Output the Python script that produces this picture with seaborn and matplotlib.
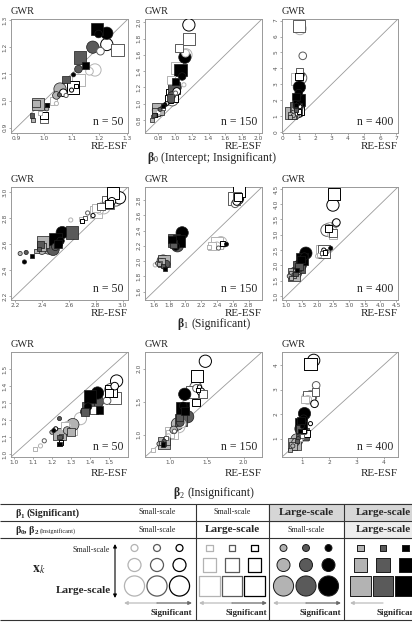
import matplotlib
matplotlib.use('Agg')
import matplotlib.pyplot as plt
import seaborn as sns
import pandas as pd
from matplotlib.patches import Rectangle

W, H = 412, 628

# marker design: shape/fill = scale of beta, size = scale of x_k, shade = significance
KINDS = ['open circle', 'open square', 'filled circle', 'filled square']
SCALES = ['small', 'medium', 'large']
SIGNIF = ['weak', 'moderate', 'strong']
KIND = [k for k in KINDS for _ in range(9)]
SCALE = [s for _ in KINDS for s in SCALES for _ in range(3)]
SIG = [g for _ in KINDS for _ in SCALES for g in SIGNIF]

# ── estimated coefficients (RE-ESF = x, GWR = y), order: kind > scale > signif ──
B0_N50_X = [1.045, 1.08, 1.10, 1.165, 1.205, 1.07, 1.185, 1.085, 1.228,
            0.985, 1.01, 1.115, 1.035, 1.0, 1.0, 1.125, 1.267, 1.105,
            1.01, 1.056, 1.107, 1.045, 1.125, 1.198, 1.058, 1.177, 1.228,
            0.96, 0.955, 1.011, 0.97, 1.08, 1.150, 0.979, 1.131, 1.192]
B0_N50_Y = [0.99, 1.02, 1.04, 1.11, 1.185, 1.03, 1.115, 1.045, 1.21,
            0.955, 0.985, 1.056, 1.0, 0.93, 0.945, 1.078, 1.19, 1.05,
            0.97, 1.022, 1.097, 1.02, 1.118, 1.249, 1.044, 1.20, 1.252,
            0.93, 0.945, 0.985, 0.99, 1.08, 1.132, 0.989, 1.161, 1.267]

B0_N150_X = [1.105, 1.006, 0.90, 1.125, 0.94, 1.02, 1.13, 0.966, 1.165,
             0.80, 0.85, 0.76, 0.954, 1.046, 0.93, 1.026, 1.165, 0.96,
             0.74, 0.82, 0.879, 0.78, 0.96, 1.085, 0.80, 1.0, 1.117,
             0.72, 0.747, 0.86, 0.77, 0.946, 1.006, 0.799, 0.986, 1.066]
B0_N150_Y = [1.232, 1.13, 1.0, 1.62, 1.05, 1.15, 1.60, 1.048, 1.967,
             0.90, 0.95, 0.86, 1.293, 1.681, 1.06, 1.436, 1.79, 1.10,
             0.84, 0.93, 0.987, 0.88, 1.10, 1.334, 0.92, 1.20, 1.57,
             0.80, 0.864, 0.97, 0.90, 1.069, 1.273, 0.934, 1.19, 1.416]

B0_N400_X = [0.70, 0.90, 1.05, 1.00, 1.23, 1.08, 1.06, 1.10, 0.95,
             0.55, 0.85, 1.00, 0.80, 1.02, 1.00, 0.86, 1.02, 0.90,
             0.65, 0.85, 0.95, 0.70, 0.90, 0.98, 0.75, 0.92, 1.02,
             0.45, 0.80, 0.82, 0.55, 0.92, 0.82, 0.51, 0.80, 1.00]
B0_N400_Y = [1.10, 1.40, 1.60, 1.50, 4.79, 3.60, 6.50, 3.40, 1.30,
             1.00, 1.20, 1.30, 1.30, 3.81, 3.50, 3.35, 6.65, 1.45,
             1.05, 1.35, 1.80, 1.15, 1.55, 2.45, 1.20, 1.70, 2.83,
             0.95, 1.40, 1.72, 1.05, 1.62, 2.24, 1.20, 1.50, 2.04]

B1_N50_X = [2.614, 2.74, 2.78, 2.83, 2.88, 2.92, 2.86, 2.95, 2.977,
            2.689, 2.72, 2.70, 2.80, 2.84, 2.90, 2.80, 2.89, 2.927,
            2.238, 2.283, 2.27, 2.40, 2.50, 2.538, 2.45, 2.483, 2.551,
            2.36, 2.376, 2.325, 2.40, 2.388, 2.52, 2.408, 2.626, 2.50]
B1_N50_Y = [2.786, 2.84, 2.82, 2.86, 2.90, 2.93, 2.88, 2.94, 2.957,
            2.793, 2.80, 2.78, 2.88, 2.89, 2.91, 2.845, 2.92, 2.993,
            2.528, 2.536, 2.463, 2.55, 2.58, 2.625, 2.57, 2.56, 2.689,
            2.55, 2.56, 2.508, 2.58, 2.598, 2.60, 2.619, 2.689, 2.637]

B1_N150_X = [1.62, 2.42, 2.50, 2.40, 2.63, 2.65, 2.45, 2.63, 2.66,
             2.30, 1.68, 2.47, 2.34, 2.65, 2.67, 2.40, 2.62, 2.68,
             1.65, 1.74, 2.52, 1.70, 1.76, 1.88, 1.72, 1.90, 1.96,
             1.67, 1.72, 1.74, 1.70, 1.85, 1.83, 1.73, 1.86, 1.92]
B1_N150_Y = [1.95, 2.17, 2.22, 2.20, 2.75, 2.78, 2.24, 2.80, 2.82,
             2.18, 1.98, 2.23, 2.20, 2.86, 2.84, 2.24, 2.82, 2.92,
             1.97, 1.91, 2.22, 1.98, 1.96, 2.19, 2.00, 2.20, 2.37,
             1.96, 1.94, 1.90, 1.99, 2.22, 2.28, 2.00, 2.27, 2.26]

B1_N400_X = [2.00, 2.30, 2.20, 2.45, 2.58, 2.60, 2.40, 2.30, 2.49,
             2.05, 2.15, 2.25, 2.49, 2.50, 2.35, 2.16, 2.20, 2.53,
             1.10, 1.25, 2.42, 1.35, 1.40, 1.58, 1.30, 1.45, 1.63,
             1.15, 1.30, 1.35, 1.20, 1.42, 1.47, 1.26, 1.40, 1.50]
B1_N400_Y = [2.30, 2.45, 2.50, 3.00, 3.37, 3.40, 3.20, 3.15, 3.97,
             2.35, 2.40, 2.42, 2.99, 3.05, 3.20, 2.46, 2.45, 4.32,
             1.65, 1.70, 2.56, 1.80, 1.90, 2.29, 1.75, 2.00, 2.40,
             1.60, 1.72, 1.85, 1.70, 1.97, 2.19, 1.70, 1.95, 2.20]

B2_N50_X = [1.14, 1.16, 1.22, 1.28, 1.49, 1.53, 1.35, 1.51, 1.54,
            1.11, 1.24, 1.25, 1.27, 1.42, 1.50, 1.30, 1.53, 1.51,
            1.20, 1.24, 1.21, 1.28, 1.37, 1.39, 1.31, 1.44, 1.44,
            1.25, 1.24, 1.24, 1.30, 1.375, 1.45, 1.24, 1.39, 1.40]
B2_N50_Y = [1.05, 1.08, 1.15, 1.17, 1.315, 1.40, 1.21, 1.38, 1.43,
            1.03, 1.06, 1.07, 1.165, 1.26, 1.36, 1.15, 1.33, 1.37,
            1.13, 1.21, 1.14, 1.14, 1.25, 1.28, 1.175, 1.31, 1.36,
            1.11, 1.10, 1.06, 1.13, 1.25, 1.26, 1.12, 1.27, 1.34]

B2_N150_X = [0.98, 1.06, 1.40, 1.165, 1.36, 1.42, 1.12, 1.35, 1.48,
             0.77, 0.95, 1.38, 1.00, 1.45, 1.35, 1.02, 1.30, 1.37,
             0.85, 0.92, 0.90, 1.05, 1.14, 1.18, 1.10, 1.24, 1.20,
             0.88, 0.92, 0.90, 0.95, 1.13, 1.20, 0.92, 1.15, 1.17]
B2_N150_Y = [0.98, 1.05, 1.72, 1.16, 1.70, 1.65, 1.12, 1.71, 2.11,
             0.76, 0.95, 1.68, 1.01, 1.61, 1.485, 1.02, 1.64, 1.885,
             0.86, 0.90, 0.86, 1.07, 1.18, 1.435, 1.16, 1.27, 1.61,
             0.87, 0.86, 0.85, 0.90, 1.26, 1.36, 0.87, 1.22, 1.40]

B2_N400_X = [1.00, 1.10, 1.30, 1.20, 1.51, 1.45, 1.20, 1.30, 1.42,
             0.90, 1.00, 1.05, 1.10, 1.48, 1.15, 1.00, 1.25, 1.30,
             0.65, 0.85, 1.00, 0.75, 0.90, 1.05, 0.80, 0.95, 1.08,
             0.55, 0.80, 0.90, 0.65, 0.89, 0.95, 0.71, 1.01, 0.95]
B2_N400_Y = [1.05, 1.25, 1.61, 2.60, 3.17, 2.42, 2.65, 2.70, 4.19,
             1.00, 1.10, 1.30, 2.60, 2.90, 1.20, 1.15, 2.70, 4.05,
             0.70, 1.00, 1.50, 0.85, 1.30, 1.81, 0.95, 1.40, 2.02,
             0.55, 0.90, 1.30, 0.70, 1.40, 1.74, 0.79, 1.20, 1.60]

N_LABELS = ['n = 50', 'n = 150', 'n = 400']
LIMS = [(0.88, 1.305), (0.64, 2.04), (-0.05, 7.1),
        (2.17, 3.04), (1.49, 2.97), (0.87, 4.56),
        (0.985, 1.60), (0.66, 2.25), (0.25, 4.53)]
TICKS = [[0.9, 1.0, 1.1, 1.2, 1.3], [0.8, 1.0, 1.2, 1.4, 1.6, 1.8, 2.0], [0, 1, 2, 3, 4, 5, 6, 7],
         [2.2, 2.4, 2.6, 2.8, 3.0], [1.6, 1.8, 2.0, 2.2, 2.4, 2.6, 2.8], [1.0, 1.5, 2.0, 2.5, 3.0, 3.5, 4.0, 4.5],
         [1.0, 1.1, 1.2, 1.3, 1.4, 1.5], [1.0, 1.5, 2.0], [1, 2, 3, 4]]
TICK_FMT = ['{:.1f}', '{:.1f}', '{:d}', '{:.1f}', '{:.1f}', '{:.1f}', '{:.1f}', '{:.1f}', '{:d}']
PANEL_DATA = [(B0_N50_X, B0_N50_Y), (B0_N150_X, B0_N150_Y), (B0_N400_X, B0_N400_Y),
              (B1_N50_X, B1_N50_Y), (B1_N150_X, B1_N150_Y), (B1_N400_X, B1_N400_Y),
              (B2_N50_X, B2_N50_Y), (B2_N150_X, B2_N150_Y), (B2_N400_X, B2_N400_Y)]

sns.set_style('ticks')
plt.rcParams['font.family'] = ['Liberation Serif', 'DejaVu Serif']
plt.rcParams['mathtext.fontset'] = 'stix'

PAL = dict(zip(SIGNIF, ['#b3b3b3', '#5a5a5a', '#000000']))
PANEL_S = dict(zip(SCALES, [9, 30, 78]))
TABLE_S = dict(zip(SCALES, [25, 88, 210]))


def draw_markers(ax, df, s_map, lw_open, lw_fill):
    for scale in SCALES[::-1]:
        for kind in KINDS:
            sub = df[(df['scale'] == scale) & (df['kind'] == kind)]
            if sub.empty:
                continue
            marker = 'o' if 'circle' in kind else 's'
            sns.scatterplot(data=sub, x='x', y='y', hue='sig', hue_order=SIGNIF, palette=PAL,
                            marker=marker, s=s_map[scale], edgecolor='#1a1a1a',
                            linewidth=lw_fill, legend=False, ax=ax, zorder=3)
            if kind.startswith('open'):
                coll = ax.collections[-1]
                coll.set_edgecolor(coll.get_facecolor().copy())
                coll.set_facecolor('white')
                coll.set_linewidth(lw_open)


fig = plt.figure(figsize=(W / 100, H / 100), dpi=100)


def px_rect(l, t, r, b):
    return [l / W, 1 - b / H, (r - l) / W, (b - t) / H]


COLS = [(11, 128), (145, 262), (282, 398)]
ROWS = [(19, 133), (187, 300), (352, 457)]
XLAB_GAP = [13.5, 13.5, 17]   # px from axes bottom to centre of "RE-ESF"

for i, (xs, ys) in enumerate(PANEL_DATA):
    r, c = divmod(i, 3)
    ax = fig.add_axes(px_rect(COLS[c][0], ROWS[r][0], COLS[c][1], ROWS[r][1]))
    height = ROWS[r][1] - ROWS[r][0]
    df = pd.DataFrame({'x': xs, 'y': ys, 'kind': KIND, 'scale': SCALE, 'sig': SIG})
    lo, hi = LIMS[i]
    ax.plot([lo, hi], [lo, hi], color='#9a9a9a', lw=0.6, zorder=1)
    draw_markers(ax, df, PANEL_S, 0.7, 0.5)
    ax.set_xlim(lo, hi)
    ax.set_ylim(lo, hi)
    ax.set(xlabel='', ylabel='')
    labels = [TICK_FMT[i].format(t) for t in TICKS[i]]
    ax.set_xticks(TICKS[i])
    ax.set_xticklabels(labels, fontfamily='DejaVu Sans', fontsize=4.2, color='#555')
    ax.set_yticks(TICKS[i])
    ax.set_yticklabels(labels, fontfamily='DejaVu Sans', fontsize=4.2, color='#555',
                       rotation=90, va='center')
    ax.tick_params(length=1.5, width=0.5, color='#888', pad=0.8)
    for sp in ax.spines.values():
        sp.set_color('#999999')
        sp.set_linewidth(0.7)
    ax.text(0.0, 1.03, 'GWR', transform=ax.transAxes, ha='left', va='bottom', fontsize=7.5)
    ax.text(1.0, -XLAB_GAP[r] / height, 'RE-ESF', transform=ax.transAxes,
            ha='right', va='center', fontsize=8)
    ax.text(0.96, 0.04, N_LABELS[c], transform=ax.transAxes, ha='right', va='bottom', fontsize=8.5)

# ── overlay in pixel units: titles and the legend table ──
ov = fig.add_axes([0, 0, 1, 1])
ov.set_xlim(0, W)
ov.set_ylim(H, 0)
ov.axis('off')
renderer = fig.canvas.get_renderer()


def rich(x, y, parts, ha='left'):
    # parts: (text, fontsize, weight, dy, gap_after)
    objs, cx = [], x
    for s, fs, wt, dy, gap in parts:
        t = ov.text(cx, y + dy, s, fontsize=fs, fontweight=wt, ha='left', va='baseline')
        cx += t.get_window_extent(renderer).width + gap
        objs.append(t)
    if ha == 'center':
        shift = (cx - x) / 2
        for t in objs:
            px, py = t.get_position()
            t.set_position((px - shift, py))


TITLE_FS = 8.5
rich(212, 161, [('β', TITLE_FS, 'bold', 0, 0), ('0', 5.8, 'normal', 1.5, 3.5),
                ('(Intercept; Insignificant)', TITLE_FS, 'normal', 0, 0)], ha='center')
rich(214, 327, [('β', TITLE_FS, 'bold', 0, 0), ('1', 5.8, 'normal', 1.5, 3.5),
                ('(Significant)', TITLE_FS, 'normal', 0, 0)], ha='center')
rich(214, 496, [('β', TITLE_FS, 'bold', 0, 0), ('2', 5.8, 'normal', 1.5, 3.5),
                ('(Insignificant)', TITLE_FS, 'normal', 0, 0)], ha='center')

# table frame
ov.add_patch(Rectangle((269, 504), 75, 17, color='#d6d6d6', zorder=0))
ov.add_patch(Rectangle((344, 504), 70, 17, color='#d6d6d6', zorder=0))
ov.add_patch(Rectangle((344, 521), 70, 17, color='#ededed', zorder=0))
ov.hlines([504, 521, 538, 620], 0, W, color='#333333', lw=0.8)
ov.vlines([196, 269, 344], 504, 620, color='#333333', lw=0.8)

rich(15, 516, [('β', 7.2, 'bold', 0, 0), ('1', 5, 'bold', 1.5, 2.5),
               ('(Significant)', 7.2, 'bold', 0, 0)])
rich(15, 533, [('β', 7.2, 'bold', 0, 0), ('0', 5, 'bold', 1.5, 0), (', β', 7.2, 'bold', 0, 0),
               ('2', 5, 'bold', 1.5, 2.5), ('(Insignificant)', 4.5, 'normal', 0, 0)])

COL_CENTERS = [157, 232, 306, 383]
ROW1 = ['Small-scale', 'Small-scale', 'Large-scale', 'Large-scale']
ROW2 = ['Small-scale', 'Large-scale', 'Small-scale', 'Large-scale']
for cx, a, b in zip(COL_CENTERS, ROW1, ROW2):
    for txt, yy in ((a, 512.5), (b, 529.5)):
        big = txt.startswith('Large')
        ov.text(cx, yy, txt, ha='center', va='center',
                fontsize=8 if big else 5.8, fontweight='bold' if big else 'normal')

ov.text(32, 570, r'$\mathbf{x}_{k}$', fontsize=10, ha='left', va='center')
ov.text(110, 552, 'Small-scale', fontsize=5.8, ha='right', va='baseline')
ov.text(111, 593, 'Large-scale', fontsize=8, fontweight='bold', ha='right', va='baseline')
ov.annotate('', xy=(115, 598), xytext=(115, 544),
            arrowprops=dict(arrowstyle='<|-|>', lw=0.8, color='black', mutation_scale=5,
                            shrinkA=0, shrinkB=0))

key = pd.DataFrame({'kind': KIND, 'scale': SCALE, 'sig': SIG})
key['x'] = [COL_CENTERS[KINDS.index(k)] + (SIGNIF.index(g) - 1) * 22.5
            for k, g in zip(key['kind'], key['sig'])]
key['y'] = [[548, 565, 586][SCALES.index(s)] for s in key['scale']]
draw_markers(ov, key, TABLE_S, 0.9, 0.7)
ov.set_xlim(0, W)
ov.set_ylim(H, 0)
ov.set(xlabel='', ylabel='')

for cx in COL_CENTERS:
    ov.annotate('', xy=(cx - 33, 603), xytext=(cx, 603),
                arrowprops=dict(arrowstyle='-|>', lw=0.9, color='#bdbdbd', mutation_scale=5,
                                shrinkA=0, shrinkB=0))
    ov.annotate('', xy=(cx + 35, 603), xytext=(cx, 603),
                arrowprops=dict(arrowstyle='-|>', lw=0.9, color='#6a6a6a', mutation_scale=5,
                                shrinkA=0, shrinkB=0))
    ov.text(cx + 35, 615, 'Significant', fontsize=6.5, fontweight='bold', ha='right', va='baseline')

fig.savefig('out.png', dpi=100)
